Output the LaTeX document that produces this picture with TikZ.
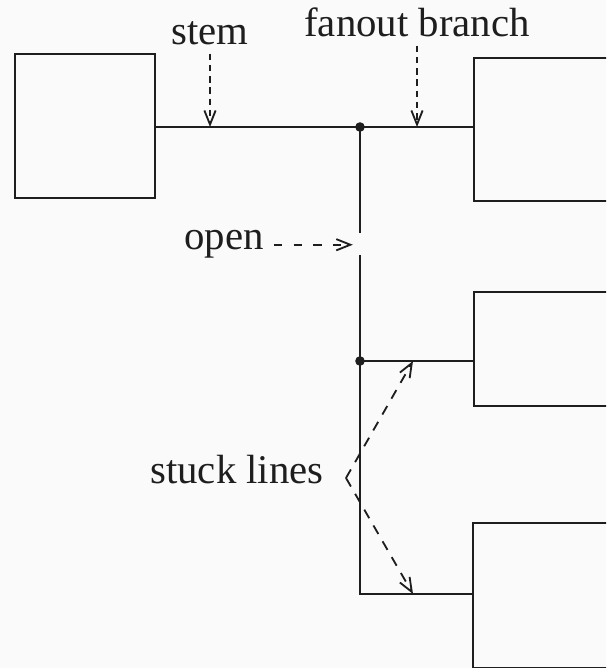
\documentclass[tikz,border=0pt]{standalone}
\usepackage{fontspec}
\setmainfont{Liberation Serif}
\usetikzlibrary{arrows.meta,positioning}
\definecolor{Ink}{RGB}{30,30,30}
\definecolor{Paper}{RGB}{250,250,250}

\begin{document}
\begin{tikzpicture}[
      x=0.025cm,y=-0.025cm,
      gNode/.style={draw=Ink,line width=1.5pt,inner sep=0pt,anchor=north west,minimum width=4cm},
      lbl/.style={inner sep=0pt,anchor=base,text=Ink,font=\fontsize{29}{34}\selectfont},
      dotNode/.style={circle,fill=Ink,inner sep=0pt,minimum size=0.24cm},
      wr/.style={line width=1.5pt,color=Ink},
      ar/.style={-{Straight Barb[length=10pt,width=8pt,line width=1.3pt]},line width=1.3pt,
                 color=Ink,dash pattern=on 4.5pt off 3.5pt}
    ]

    % page
    \clip (0,0) rectangle (606,668);
    \fill[Paper] (0,0) rectangle (606,668);

    % Gates: driver on the left, three receivers on the right
    \node(src)[gNode,minimum width=3.5cm,minimum height=3.6cm] at (14,53) {};
    \node(dstA)[gNode,minimum height=3.575cm] at (473,57) {};
    \node(dstB)[gNode,minimum height=2.85cm] at (473,291) {};
    \node(dstC)[gNode,minimum height=3.625cm] at (472,522) {};

    % Fanout points and corners of the net
    \node(j1)[dotNode] at (360,127) {};
    \node(j2)[dotNode] at (360,361) {};
    \coordinate (cut1) at (360,233);
    \coordinate (cut2) at (360,255);
    \coordinate (bend) at (360,594);

    % Wires
    \draw[wr] (src.east |- j1) -- (j1.center) -- (dstA.west |- j1);
    \draw[wr] (j1.center) -- (cut1);
    \draw[wr] (cut2) -- (j2.center) -- (dstB.west |- j2);
    \draw[wr] (j2.center) -- (bend) -- (dstC.west |- bend);

    % Labels
    \node(stem)[lbl] at (210,45) {stem};
    \node(fan)[lbl] at (417,37) {fanout branch};
    \node(open)[lbl] at (224,250) {open};
    \node(stuck)[lbl] at (237,483) {stuck lines};

    % Pointers onto the net
    \draw[ar,shorten <=0.2cm] (stem.south) -- (stem.south |- j1);
    \draw[ar,shorten <=0.2cm] (fan.south) -- (fan.south |- j1);
    \draw[ar,dash pattern=on 6pt off 8pt,shorten <=0.25cm,shorten >=0.18cm]
      (open.east) -- (open.east -| cut1);

    % Stuck-at pointers from one fork
    \coordinate (fork) at (346,478);
    \coordinate (hitB) at (413,361);
    \coordinate (hitC) at (413,594);
    \draw[ar,dash pattern=on 7pt off 6pt] (fork) -- (hitB);
    \draw[ar,dash pattern=on 7pt off 6pt] (fork) -- (hitC);
  \end{tikzpicture}
\end{document}
